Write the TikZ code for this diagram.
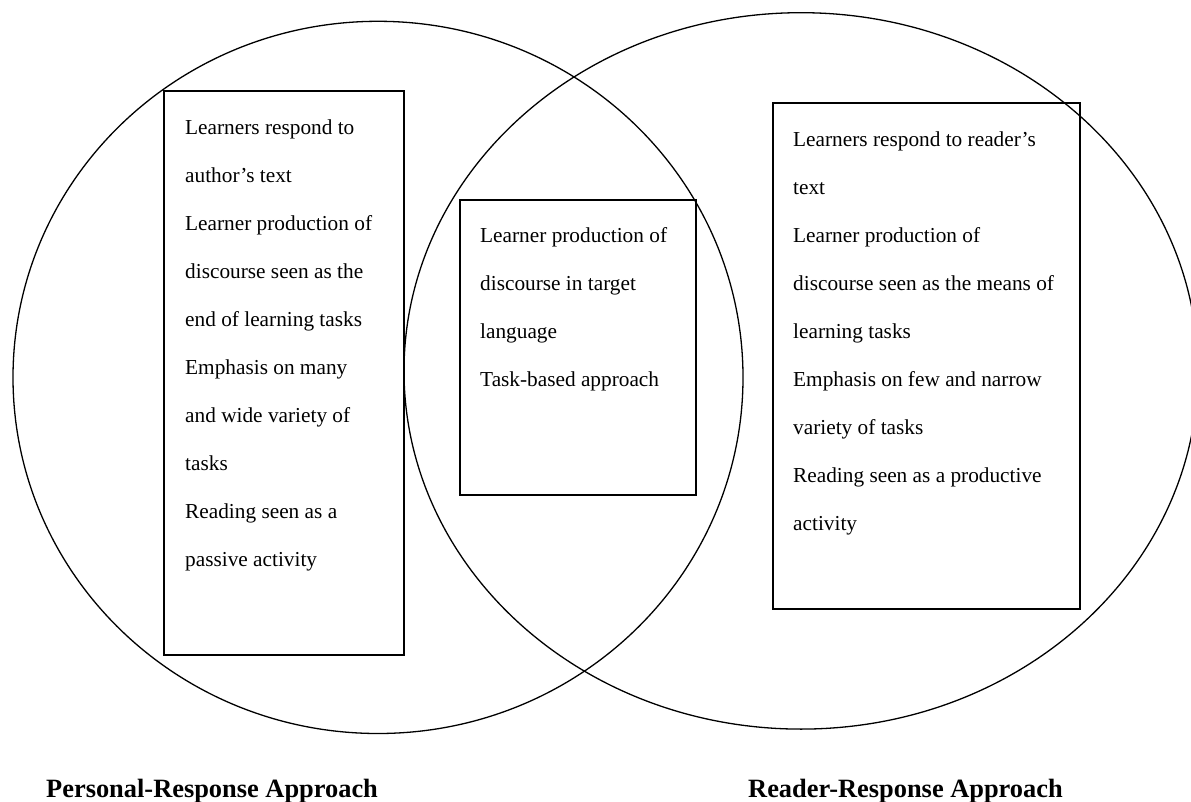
\documentclass[tikz,border=0pt]{standalone}
\usepackage{fontspec}
\setmainfont{Liberation Serif}
\begin{document}
\begin{tikzpicture}[x=1pt,y=-1pt,
  ring/.style={line width=1.3pt},
  panel/.style={line width=1.5pt},
  itemtext/.style={anchor=north west,inner sep=0pt,align=left,
    font=\fontsize{21.3}{48}\selectfont},
  caption/.style={anchor=base west,inner sep=0pt,
    font=\fontsize{26.4}{30}\selectfont\bfseries}]
\useasboundingbox (0,0) rectangle (1191,802);

% the two overlapping circles
\begin{scope}
  \clip (0,0) rectangle (1191,802);
  \draw[ring] (378,377.4) ellipse [x radius=365pt, y radius=356.1pt];
  \draw[ring] (801,370.9) ellipse [x radius=397pt, y radius=358.2pt];
\end{scope}

% text panels
\draw[panel] (164,91) rectangle (404,655);
\draw[panel] (460,200) rectangle (696,495);
\draw[panel] (773,103) rectangle (1080,609);

\node[itemtext] (personal) at (185,119) {\rule{0pt}{15pt}Learners respond to\\
author’s text\\
Learner production of\\
discourse seen as the\\
end of learning tasks\\
Emphasis on many\\
and wide variety of\\
tasks\\
Reading seen as a\\
passive activity};

\node[itemtext] (shared) at (480,227) {\rule{0pt}{15pt}Learner production of\\
discourse in target\\
language\\
Task-based approach};

\node[itemtext] (reader) at (793,131) {\rule{0pt}{15pt}Learners respond to reader’s\\
text\\
Learner production of\\
discourse seen as the means of\\
learning tasks\\
Emphasis on few and narrow\\
variety of tasks\\
Reading seen as a productive\\
activity};

% captions under the circles
\node[caption] (leftcap) at (46,797) {Personal-Response Approach};
\node[caption] (rightcap) at (748,797) {Reader-Response Approach};
\end{tikzpicture}
\end{document}
